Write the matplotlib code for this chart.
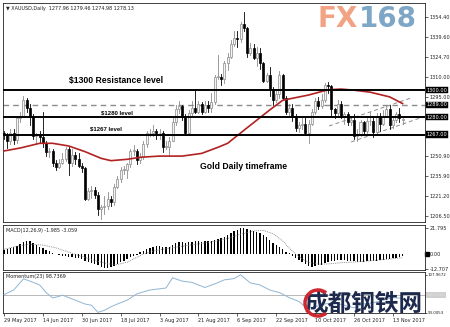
import matplotlib
matplotlib.use("Agg")
import matplotlib.pyplot as plt
from matplotlib.patches import Arc

# ---------------- data ----------------
opens = [1268,1267,1262,1268,1263,1279,1281,1293,1287,1280,1266,1267,1265,1261,1254,1255,1246,1243,1246,1249,
         1256,1246,1252,1249,1244,1242,1219,1225,1226,1222,1212,1213,1214,1219,1217,1228,1234,1241,1241,1245,
         1255,1255,1248,1250,1260,1268,1268,1270,1268,1268,1258,1258,1262,1276,1286,1288,1281,1268,1283,1287,
         1284,1290,1284,1289,1287,1291,1310,1310,1308,1320,1325,1334,1339,1338,1349,1346,1328,1331,1324,1328,
         1320,1307,1311,1301,1293,1297,1311,1294,1284,1287,1280,1272,1274,1275,1268,1275,1284,1292,1288,1293,
         1304,1303,1286,1283,1290,1280,1282,1276,1278,1266,1267,1276,1270,1277,1277,1269,1281,1275,1281,1286,
         1274,1278,1282,1277.96]
highs = [1270,1268,1271,1271,1281,1284,1296,1294,1290,1282,1268,1270,1284,1262,1257,1256,1248,1249,1253,1258,
         1258,1256,1254,1253,1246,1243,1227,1229,1228,1224,1215,1221,1224,1221,1230,1236,1243,1244,1246,1256,
         1259,1256,1253,1262,1270,1271,1274,1271,1271,1270,1262,1265,1280,1289,1292,1289,1282,1285,1292,1301,
         1292,1291,1292,1292,1298,1311,1326,1312,1322,1328,1337,1344,1344,1351,1358,1347,1335,1334,1332,1331,
         1321,1313,1317,1302,1301,1314,1312,1296,1290,1290,1282,1276,1279,1280,1278,1286,1294,1295,1297,1305,
         1306,1304,1287,1293,1292,1284,1284,1280,1282,1271,1278,1277,1279,1284,1281,1283,1283,1285,1289,1289,
         1280,1284,1287,1279.46]
lows = [1264,1257,1260,1260,1261,1276,1280,1284,1274,1264,1261,1261,1258,1251,1250,1244,1241,1242,1245,1247,
        1237,1244,1245,1243,1239,1218,1218,1220,1220,1207,1204,1208,1212,1214,1215,1227,1232,1238,1235,1243,
        1252,1245,1246,1249,1258,1266,1266,1264,1264,1254,1256,1251,1262,1274,1283,1278,1267,1267,1281,1283,
        1283,1282,1283,1284,1284,1290,1308,1304,1305,1315,1324,1333,1332,1336,1344,1325,1326,1323,1318,1316,
        1306,1306,1296,1289,1291,1294,1293,1282,1280,1277,1270,1269,1271,1267,1261,1274,1282,1286,1287,1291,
        1298,1281,1279,1280,1279,1275,1274,1274,1264,1262,1266,1267,1268,1274,1265,1268,1270,1274,1280,1271,
        1272,1276,1276,1274.98]
closes = [1267,1262,1268,1263,1279,1281,1293,1287,1280,1266,1267,1265,1261,1254,1255,1246,1243,1246,1249,1256,
          1246,1252,1249,1244,1242,1219,1225,1226,1222,1212,1213,1214,1219,1217,1228,1234,1241,1241,1245,1255,
          1255,1248,1250,1260,1268,1268,1270,1268,1268,1258,1258,1262,1276,1286,1288,1281,1268,1283,1287,1284,
          1290,1284,1289,1287,1291,1310,1310,1308,1320,1325,1334,1339,1338,1349,1346,1328,1331,1324,1328,1320,
          1307,1311,1301,1293,1297,1311,1294,1284,1287,1280,1272,1274,1275,1268,1275,1284,1292,1288,1293,1304,
          1303,1286,1283,1290,1280,1282,1276,1278,1266,1267,1276,1270,1277,1277,1269,1281,1275,1281,1286,1274,
          1278,1282,1279,1278.13]

ma_idx = [0, 5, 11, 15, 20, 25, 30, 33, 38, 42, 48, 55, 61, 66, 69, 75, 82, 86, 94, 100, 104, 108, 113, 119, 123]
ma_val = [1254.8, 1257, 1260.5, 1260.5, 1258.5, 1254.3, 1249.3, 1247.6, 1248.6, 1250.1, 1251, 1251, 1253,
          1257.5, 1260.5, 1272, 1285.3, 1292.5, 1296.4, 1300.3, 1300.8, 1300, 1298.5, 1295, 1290]

macd_hist = [3.4,4,5,5.8,7,8.5,10.3,10.9,10.5,9,7.8,5.5,4.8,3.5,2.5,1.2,0.2,-1,-1.4,-1.5,
             -2.2,-2.5,-3,-3.4,-4,-6,-6.5,-7.2,-8,-9.5,-10.8,-11.6,-11.4,-11,-9.8,-8.6,-7,-5.5,-4.2,-2.5,
             -1.5,-0.5,1.5,2.8,4.5,5.3,6,6.4,6.7,6.2,5.8,6.1,7.5,9,10,10.2,9.5,10,10.4,10.5,
             10.6,10.3,10.5,10.6,11,11.7,12.5,13,14.5,16,18,19.6,20.5,21.5,21.8,21,20.5,19.5,18.5,17.5,
             16,14.5,12,9.5,7.5,6,4,2,0.5,-1.5,-3,-5,-7,-8.6,-10,-10.6,-10,-9.5,-8.8,-7.5,
             -6.5,-6,-5.5,-5.3,-5.3,-5.3,-5.5,-5.8,-6.2,-6.4,-6.4,-6.3,-6.2,-6,-6,-5.6,-5.3,-5,-4.5,-4,
             -3.5,-3.2,-2.6,-1.985]
sig_idx = [0, 4, 8, 12, 16, 20, 24, 28, 32, 35, 38, 41, 43, 46, 50, 55, 60, 65, 69, 73, 77, 80, 83, 86, 88,
           90, 92, 94, 97, 100, 104, 110, 116, 123]
sig_val = [4, 6.5, 8.1, 7.5, 5.2, 1.5, -2, -5.5, -8.2, -8.8, -6.8, -2.8, 0, 2.5, 4.5, 6.5, 8.5, 10.5, 13,
           16.5, 19.3, 19.8, 17, 11, 5, 0, -4, -7, -8.5, -8.3, -7.3, -6.4, -5, -3.059]

mom_idx = [0, 3, 6, 8, 11, 13, 15, 17, 18, 20, 22, 25, 27, 29, 31, 33, 35, 38, 41, 45, 50, 52, 55, 58, 62,
           65, 68, 71, 73, 76, 79, 82, 85, 88, 91, 94, 96, 99, 102, 105, 108, 111, 114, 117, 120, 123]
mom_val = [100.2, 102, 106.4, 105.5, 104, 101, 98.9, 99.5, 100, 99, 98, 96.5, 96, 93.2, 94, 95.4, 96.5, 98,
           100.5, 102, 102.8, 106.8, 105.5, 105, 103, 104.4, 106, 106.5, 108, 104.8, 104, 102, 101, 99, 97.5,
           94.2, 95.4, 96.5, 97, 96, 95, 96.5, 97, 98, 99, 98.74]

date_idx = [0, 12, 24, 36, 48, 60, 72, 84, 96, 108, 120]
date_labels = ["29 May 2017", "14 Jun 2017", "30 Jun 2017", "18 Jul 2017", "3 Aug 2017", "21 Aug 2017",
               "6 Sep 2017", "22 Sep 2017", "10 Oct 2017", "26 Oct 2017", "13 Nov 2017"]
price_ticks = [1354.40, 1339.60, 1324.70, 1310.00, 1295.00, 1250.90, 1235.90, 1221.20, 1206.50]
levels_solid = [1300.00, 1280.00, 1267.00]
level_dashed = 1289.00
chan_upper_x = [100.3, 125.6]
chan_upper_y = [1273.4, 1294.2]
chan_lower_x = [107.1, 130.2]
chan_lower_y = [1261.5, 1280.8]

# ---------------- layout ----------------
W, H = 450, 327
fig = plt.figure(figsize=(W / 100, H / 100), dpi=100)
fig.patch.set_facecolor("white")


def box(top, bottom, left=3, right=425):
    return [left / W, 1 - bottom / H, (right - left) / W, (bottom - top) / H]


ax = fig.add_axes(box(3, 222))
axm = fig.add_axes(box(225, 270))
axo = fig.add_axes(box(272, 313))

XL = (-0.3, 129.9)
for a in (ax, axm, axo):
    a.set_xlim(*XL)
    for s in a.spines.values():
        s.set_linewidth(0.6)
        s.set_color("#222222")
    a.yaxis.tick_right()
    a.tick_params(axis="y", length=2, width=0.5, labelsize=3.6, pad=1.5, colors="#222222")
    a.tick_params(axis="x", length=0, labelbottom=False)

# ---------------- main panel ----------------
ax.set_ylim(1202.0, 1364.8)
n = len(closes)
for i in range(n):
    o, h, l, c = opens[i], highs[i], lows[i], closes[i]
    up = c >= o
    col = "#8a8a8a" if up else "#000000"
    ax.plot([i, i], [l, h], color=col, lw=0.6, zorder=2)
    ax.bar(i, max(abs(c - o), 0.4), bottom=min(o, c), width=0.62,
           color="#f4f4f4" if up else "black", edgecolor=col, linewidth=0.5, zorder=3)

ax.plot(ma_idx, ma_val, color="#b22222", lw=1.2, zorder=4)

for lv in levels_solid:
    ax.axhline(lv, color="black", lw=1.4, zorder=5)
ax.axhline(level_dashed, color="#8c8c8c", lw=1.0, ls=(0, (4, 3)), zorder=1)
ax.plot(chan_upper_x, chan_upper_y, color="#8c8c8c", lw=0.7, ls=(0, (4, 3)), zorder=1)
ax.plot(chan_lower_x, chan_lower_y, color="#8c8c8c", lw=0.7, ls=(0, (4, 3)), zorder=1)

ax.set_yticks(price_ticks)
ax.set_yticklabels([f"{v:.2f}" for v in price_ticks])

ytr = ax.get_yaxis_transform()
for lv in [1300.00, level_dashed, 1280.00, 1267.00]:
    ax.text(1.004, lv, f"{lv:.2f}", transform=ytr, fontsize=3.6, color="white", va="center", ha="left",
            bbox=dict(boxstyle="square,pad=0.15", fc="black", ec="black", lw=0.3), clip_on=False)

ax.text(0.006, 0.985, "\u25bc XAUUSD,Daily  1277.96 1279.46 1274.98 1278.13", transform=ax.transAxes,
        fontsize=3.5, va="top", ha="left", color="#222222")

ax.text(34.6, 1307.5, "$1300 Resistance level", fontsize=6.2, fontweight="bold", ha="center", va="center",
        family="Liberation Sans")
ax.text(35.0, 1282.8, "$1280 level", fontsize=4.3, fontweight="bold", ha="center", va="center",
        family="Liberation Sans")
ax.text(31.6, 1270.9, "$1267 level", fontsize=4.3, fontweight="bold", ha="center", va="center",
        family="Liberation Sans")
ax.text(74.0, 1243.0, "Gold Daily timeframe", fontsize=6.2, fontweight="bold", ha="center", va="center",
        family="Liberation Sans")

# FX168 watermark
fig.text(317 / W, 1 - 27 / H, "FX", fontsize=20, fontweight="bold", color="#f2a384", ha="left",
         va="baseline", family="DejaVu Sans")
fig.text(417 / W, 1 - 27 / H, "168", fontsize=20, fontweight="bold", color="#7ea6c6", ha="right",
         va="baseline", family="DejaVu Sans")

# ---------------- MACD panel ----------------
axm.set_ylim(-13.4, 24.3)
axm.bar(range(len(macd_hist)), macd_hist, width=0.42, color="black", zorder=3)
axm.plot(sig_idx, sig_val, color="#777777", lw=0.6, ls=(0, (1, 1.2)), zorder=4)
axm.set_yticks([21.795, 0.0, -12.707])
axm.set_yticklabels(["21.795", "0.00", "-12.707"])
axm.text(0.006, 0.93, "MACD(12,26,9) -1.985 -3.059", transform=axm.transAxes, fontsize=3.5,
         va="top", ha="left", color="#222222")
axm.plot([1.004], [0.0], marker="s", ms=2.5, color="black", transform=axm.get_yaxis_transform(),
         clip_on=False)

# ---------------- Momentum panel ----------------
axo.set_ylim(92.95, 109.1)
axo.axhline(100, color="#b8b8b8", lw=0.7, zorder=1)
axo.plot(mom_idx, mom_val, color="#8fb6d4", lw=0.7, zorder=3)
axo.set_yticks([107.9672, 93.0053])
axo.set_yticklabels(["107.9672", "93.0053"])
axo.tick_params(axis="y", labelsize=2.9, pad=0.6, length=1.2)
axo.text(1.004, 100, "100.0000", transform=axo.get_yaxis_transform(), fontsize=2.9, color="#e0e0e0",
         va="center", ha="left", bbox=dict(boxstyle="square,pad=0.15", fc="#cfcfcf", ec="none"), clip_on=False)
axo.text(0.006, 0.95, "Momentum(23) 98.7369", transform=axo.transAxes, fontsize=3.5,
         va="top", ha="left", color="#222222")

axo.set_xticks(date_idx)
axo.set_xticklabels(date_labels)
axo.tick_params(axis="x", length=2, width=0.5, labelbottom=True, labelsize=3.6, pad=1.5, colors="#222222")
for t in axo.get_xticklabels():
    t.set_ha("left")

# bottom watermark
fig.text(363 / W, 1 - 305 / H, "成都钢铁网", fontsize=17, fontweight="bold", color="#1d2a4d",
         ha="center", va="center", family=["Noto Sans CJK SC", "DejaVu Sans"], zorder=10)
arc = Arc((318 / W, 1 - 303 / H), 26 / W, 26 / H, theta1=60, theta2=300, transform=fig.transFigure,
          color="#d0282e", lw=2.5, zorder=11)
fig.add_artist(arc)

fig.savefig("out.png", dpi=100, facecolor="white")
